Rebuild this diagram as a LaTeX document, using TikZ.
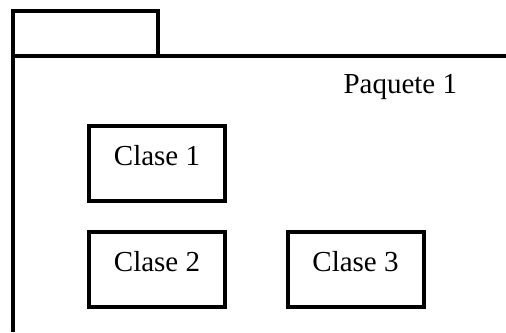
\documentclass[tikz,border=0pt]{standalone}
\usepackage{fontspec}
\setmainfont{Liberation Serif}
\usetikzlibrary{positioning}

\tikzset{
  pkgline/.style={line width=4pt},
  tabbox/.style={draw,line width=4pt,minimum width=144.5pt,minimum height=45pt,inner sep=0pt,outer sep=0pt},
  clase/.style={draw,line width=4pt,minimum width=136pt,minimum height=75pt,inner sep=0pt,
    text height=20pt,text depth=16pt,font=\fontsize{29}{34}\selectfont},
}

\begin{document}
\begin{tikzpicture}[x=1pt,y=-1pt]
  \useasboundingbox (0,0) rectangle (506,332);
  % package
  \node[tabbox] (tab) at (85.25,33.5) {};
  \draw[pkgline] (13,332) -- (tab.south west) -- (506,56);
  \node[anchor=base west,font=\fontsize{29}{34}\selectfont] (paq) at (340,93) {Paquete 1};
  % classes
  \node[clase] (c1) at (157,163.5) {Clase 1};
  \node[clase] (c2) at (157,269.5) {Clase 2};
  \node[clase] (c3) at (355.5,269) {Clase 3};
\end{tikzpicture}
\end{document}
